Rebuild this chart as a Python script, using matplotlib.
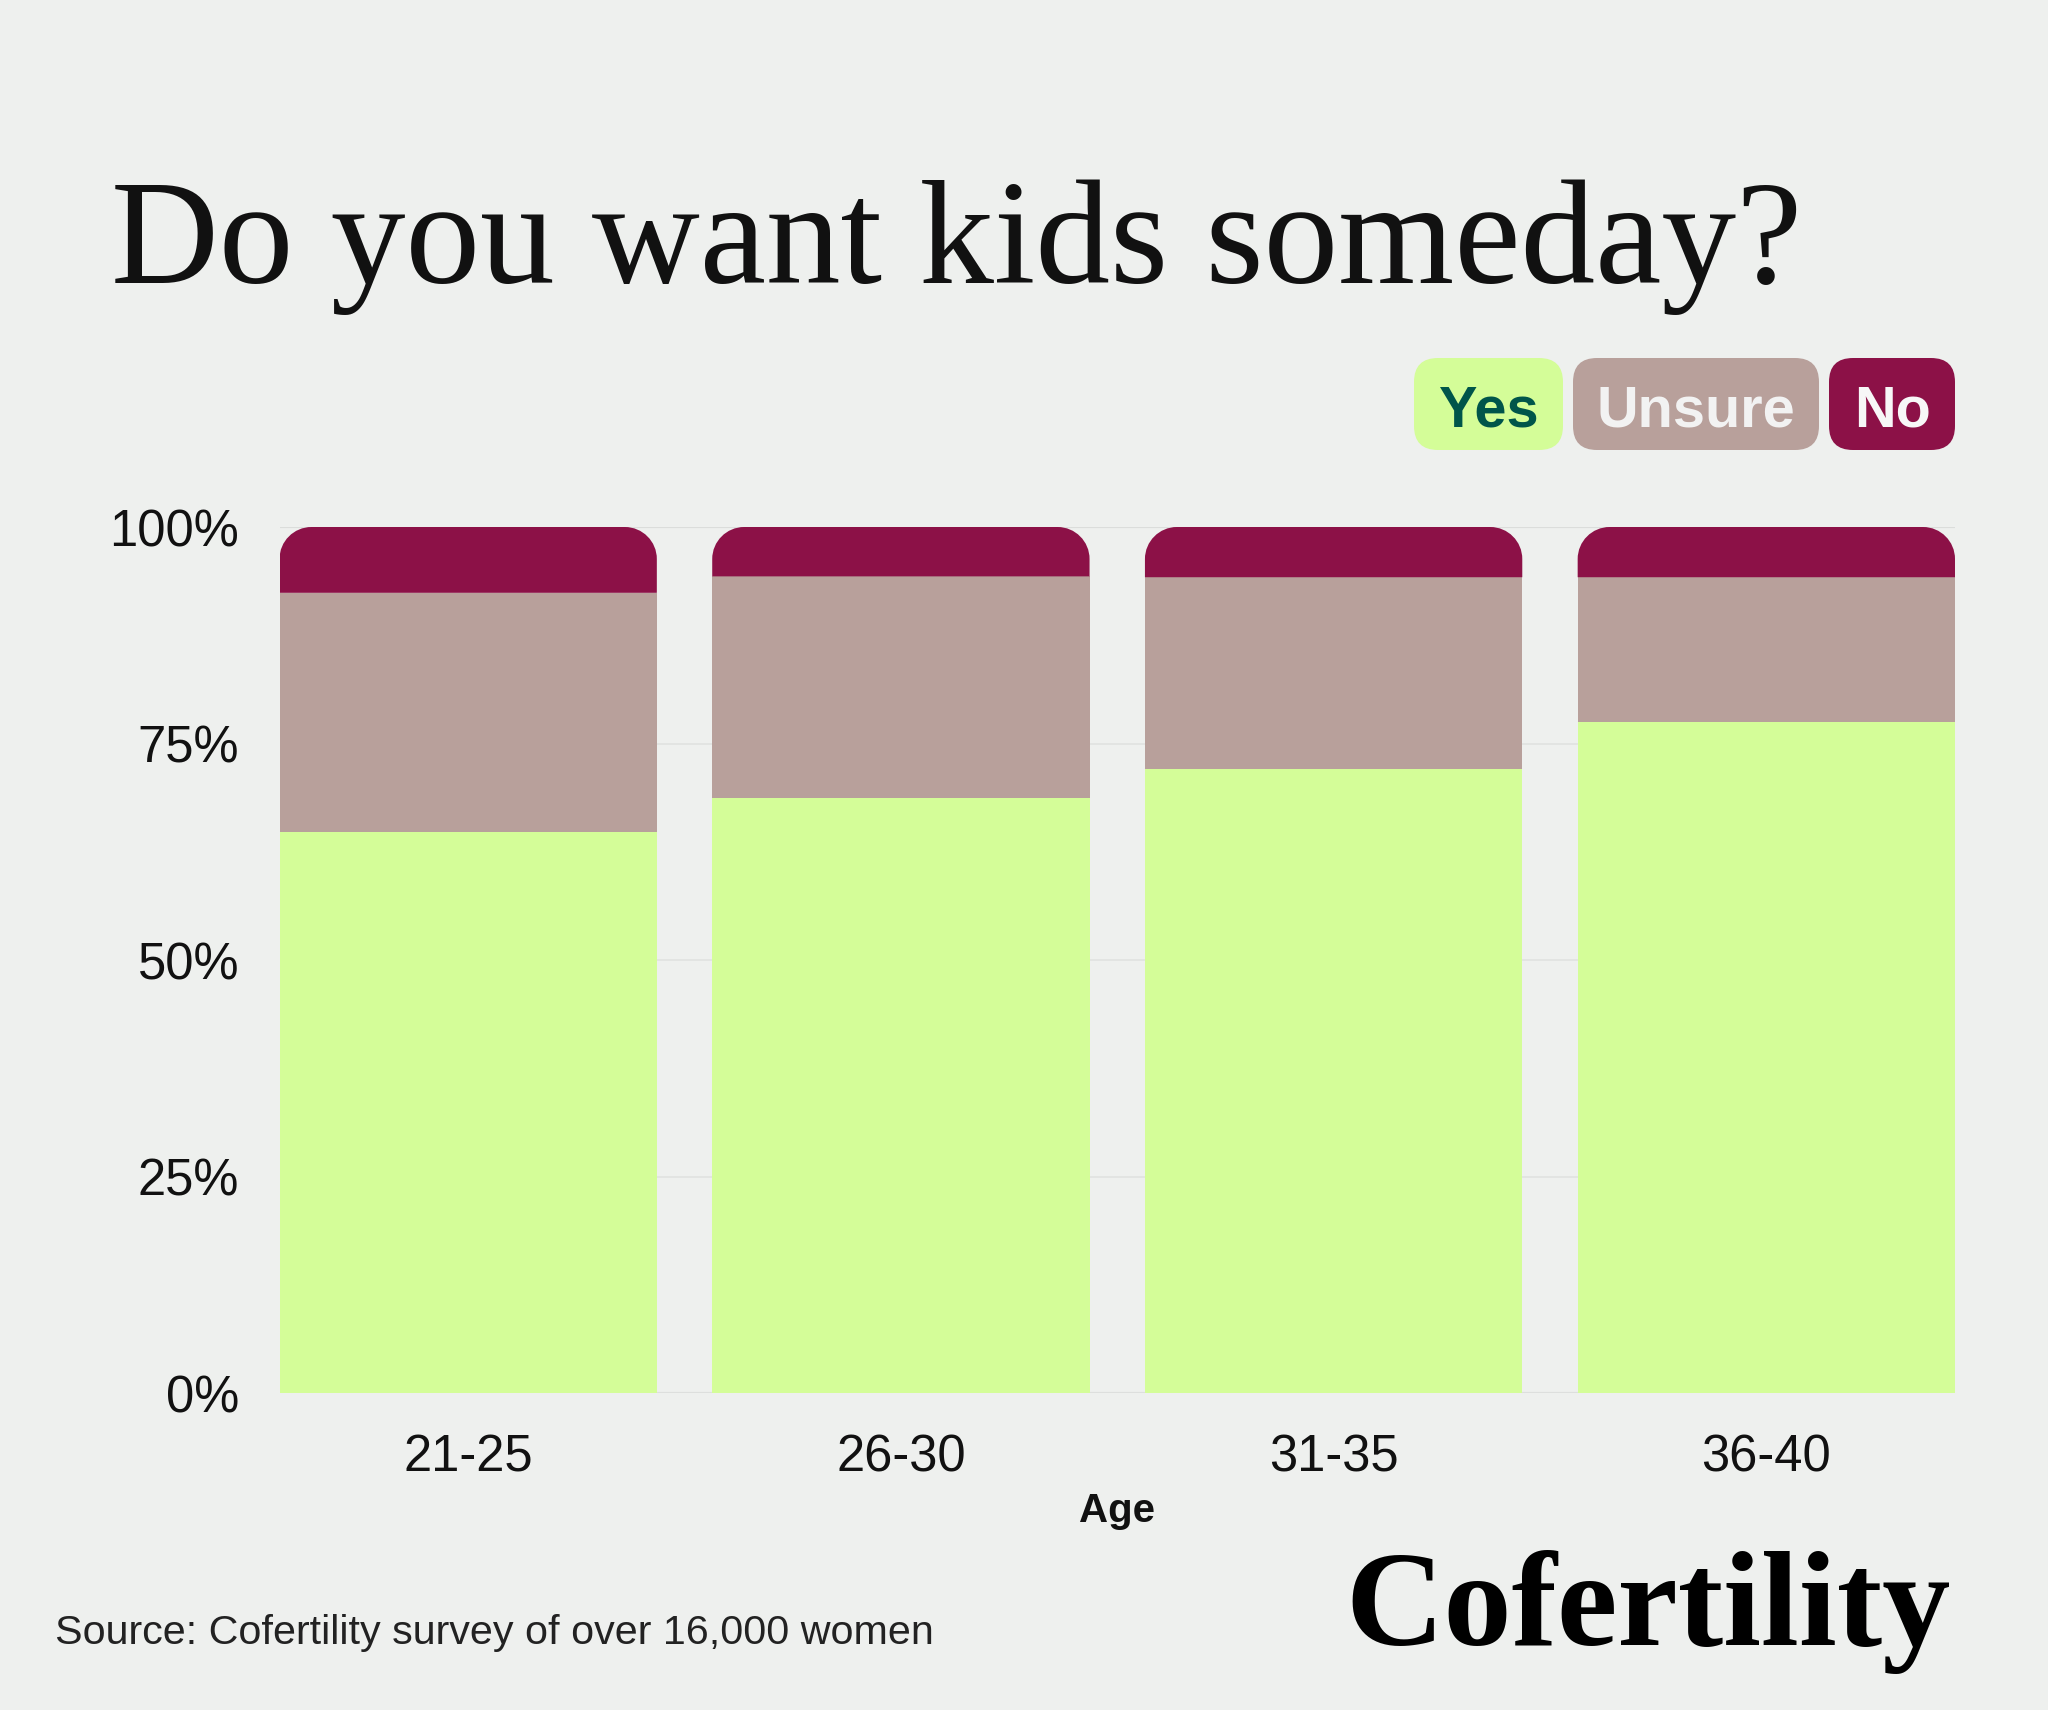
import matplotlib.pyplot as plt
import numpy as np
from matplotlib.path import Path
from matplotlib.patches import PathPatch, FancyBboxPatch

# survey data (percent of respondents)
ages = ["21-25", "26-30", "31-35", "36-40"]
yes = [64.8, 68.7, 72.0, 77.5]
unsure = [27.6, 25.6, 22.2, 16.7]
no = [7.6, 5.7, 5.8, 5.8]
answers = ["Yes", "Unsure", "No"]
yticks = [0, 25, 50, 75, 100]

BG = "#EEF0EE"
YES_C = "#D4FD98"
UNSURE_C = "#B8A09B"
NO_C = "#8C1147"
W, H = 2048, 1710


def top_rounded(x0, y0, w, h, rx, ry):
    # rectangle with the two upper corners rounded (cubic arcs)
    k = 0.5523
    x1, yt = x0 + w, y0 + h
    verts = [(x0, y0), (x1, y0), (x1, yt - ry),
             (x1, yt - ry + k * ry), (x1 - rx + k * rx, yt), (x1 - rx, yt),
             (x0 + rx, yt),
             (x0 + rx - k * rx, yt), (x0, yt - ry + k * ry), (x0, yt - ry),
             (x0, y0)]
    codes = [Path.MOVETO, Path.LINETO, Path.LINETO,
             Path.CURVE4, Path.CURVE4, Path.CURVE4,
             Path.LINETO,
             Path.CURVE4, Path.CURVE4, Path.CURVE4,
             Path.CLOSEPOLY]
    return Path(verts, codes)


def fit_width(t, target, renderer):
    bb = t.get_window_extent(renderer)
    t.set_fontsize(t.get_fontsize() * target / bb.width)


fig = plt.figure(figsize=(W / 100, H / 100), dpi=100, facecolor=BG)
left, right, top, bottom = 279.5, 1955, 527, 1393
ax = fig.add_axes([left / W, 1 - bottom / H, (right - left) / W, (bottom - top) / H])
ax.set_facecolor(BG)

x = np.arange(len(ages))
bw = 0.872
ax.set_xlim(-0.436, len(ages) - 1 + 0.436)
ax.set_ylim(0, 100)

ax.bar(x, yes, bw, color=YES_C, zorder=3)
ax.bar(x, unsure, bw, bottom=yes, color=UNSURE_C, zorder=3)

# corner radius of 32 px turned into data units
rx = 32 / ((right - left) / (ax.get_xlim()[1] - ax.get_xlim()[0]))
ry = 32 / ((bottom - top) / 100)
for xi, y0, h in zip(x, np.add(yes, unsure), no):
    ax.add_patch(PathPatch(top_rounded(xi - bw / 2, y0, bw, h, rx, ry),
                           facecolor=NO_C, edgecolor="none", zorder=3))

ax.set_yticks(yticks)
ax.set_yticklabels([f"{v}%" for v in yticks])
ax.set_xticks(x)
ax.set_xticklabels(ages)
ax.tick_params(length=0, labelsize=36.5, labelcolor="#111111", pad=29)
for lab in ax.get_xticklabels() + ax.get_yticklabels():
    lab.set_family("Liberation Sans")
ax.yaxis.grid(True, color="#E0E2E0", lw=1.2, zorder=0)
ax.axhline(100, color="#C8CAC8", lw=1.5, zorder=1)
ax.axhline(0, color="#D3D5D3", lw=1.5, zorder=1)
for s in ax.spines.values():
    s.set_visible(False)
ax.set_xlabel("Age", family="Liberation Sans", fontsize=29, fontweight="bold",
              color="#111111", labelpad=7)

# overlay in pixel space for the title, legend chips and footer
ov = fig.add_axes([0, 0, 1, 1])
ov.set_xlim(0, W)
ov.set_ylim(H, 0)
ov.axis("off")

renderer = fig.canvas.get_renderer()
title = ov.text(111, 283, "Do you want kids someday?", family="Liberation Serif",
                fontsize=150, color="#111111", va="baseline", ha="left")
fit_width(title, 1691, renderer)

chips = [(1414, 1563, YES_C, "#00554A"),
         (1573, 1819, UNSURE_C, "#F2F2F2"),
         (1829, 1955, NO_C, "#F7F7F7")]
for name, (x0, x1, fc, tc) in zip(answers, chips):
    ov.add_patch(FancyBboxPatch((x0, 358), x1 - x0, 92,
                                boxstyle="round,pad=0,rounding_size=24",
                                facecolor=fc, edgecolor="none"))
    ov.text((x0 + x1) / 2, 426, name, family="Liberation Sans", fontweight="bold",
            fontsize=41.5, color=tc, ha="center", va="baseline")

ov.text(55, 1644, "Source: Cofertility survey of over 16,000 women",
        family="Liberation Sans", fontsize=29.7, color="#222222", va="baseline")

logo = ov.text(1345, 1645, "Cofertility", family="Liberation Serif",
               fontweight="bold", fontsize=100, color="#000000", va="baseline")
fit_width(logo, 605, renderer)

fig.savefig("out.png", dpi=100, facecolor=BG)
